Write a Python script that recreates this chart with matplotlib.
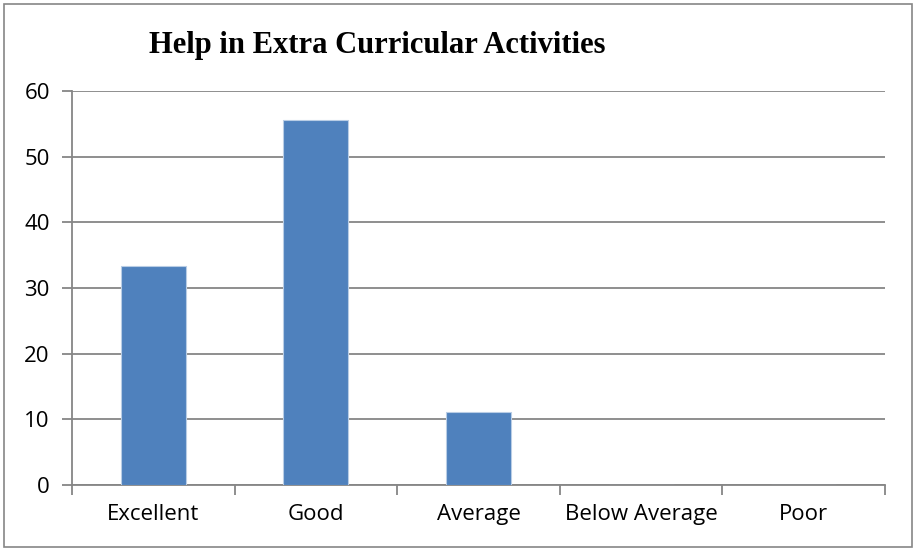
import matplotlib
matplotlib.use("Agg")
import matplotlib.pyplot as plt
from matplotlib.patches import Rectangle
import numpy as np

categories = ["Excellent", "Good", "Average", "Below Average", "Poor"]
values = [33.33, 55.56, 11.11, 0, 0]
yticks = [0, 10, 20, 30, 40, 50, 60]

fig = plt.figure(figsize=(9.15, 5.51), dpi=100)
ax = fig.add_axes([72/915, 1-485/551, (885-72)/915, (485-91)/551])

x = np.arange(len(categories))
gray = "#868686"
ax.bar(x, values, width=0.4, color="#4F81BD", edgecolor="#B9CDE5", linewidth=0.8, zorder=3)

ax.set_xlim(-0.5, len(categories) - 0.5)
ax.set_ylim(0, 60)
ax.set_yticks(yticks)
ax.yaxis.grid(True, color=gray, linewidth=1.3, zorder=0)
ax.set_xticks(x)
ax.set_xticklabels(categories, fontsize=16, family="Open Sans")
ax.set_xticks(np.arange(-0.5, len(categories)), minor=True)
ax.tick_params(axis="x", which="major", length=0, pad=14)
ax.tick_params(axis="x", which="minor", length=7, color=gray, width=1.3)
ax.tick_params(axis="y", length=7, color=gray, width=1.3, labelsize=16, pad=9)
for lab in ax.get_yticklabels():
    lab.set_family("Open Sans")
for s in ["top", "right"]:
    ax.spines[s].set_visible(False)
for s in ["left", "bottom"]:
    ax.spines[s].set_color(gray)
    ax.spines[s].set_linewidth(1.3)

fig.text(377.5/915, 1-46/551, "Help in Extra Curricular Activities", ha="center", va="center",
         fontsize=22, fontweight="bold", family="Liberation Serif")

fig.patches.append(Rectangle((4/915, 4/551), 908/915, 543/551, transform=fig.transFigure,
                             fill=False, edgecolor=gray, linewidth=1.2))

fig.savefig("out.png", dpi=100)
